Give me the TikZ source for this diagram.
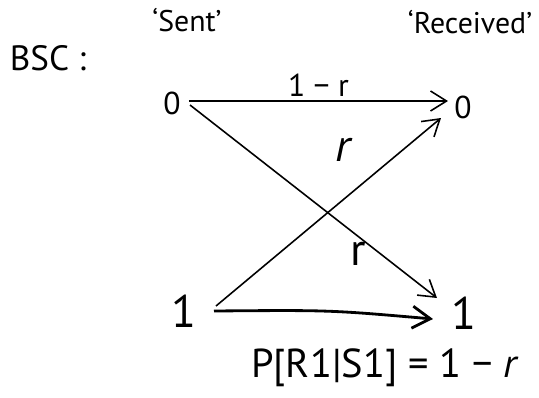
\documentclass[tikz,border=0pt]{standalone}
\usepackage{fontspec}
\setmainfont{PT Sans}
\usetikzlibrary{arrows.meta}

\begin{document}
\begin{tikzpicture}[x=0.02cm,y=-0.02cm]
\tikzset{
  symbol/.style={inner sep=1pt,font=\fontsize{18}{20}\selectfont},
  bigsymbol/.style={inner sep=1pt,font=\fontsize{26}{28}\selectfont},
  caption/.style={inner sep=1pt,font=\fontsize{17}{19}\selectfont},
  channel/.style={-{Straight Barb[length=3.2mm,width=4mm]},line width=0.9pt},
  heavychannel/.style={-{Straight Barb[length=3.6mm,width=4.4mm]},line width=1.6pt}
}
\useasboundingbox (0,0) rectangle (539,397);
% headings
\node[inner sep=1pt,font=\fontsize{20}{22}\selectfont] (n_bsc) at (48,58) {BSC :};
\node[caption] (n_sent) at (187,20) {`Sent'};
\node[caption] (n_recv) at (470,22) {`Received'};
% inputs and outputs
\node[symbol] (n_s0) at (172,103) {0};
\node[symbol] (n_r0) at (463,107) {0};
\node[bigsymbol] (n_s1) at (184,311) {1};
\node[bigsymbol] (n_r1) at (464,313) {1};
\coordinate (c_s0) at (189,101);
\coordinate (c_s0b) at (190,105);
\coordinate (c_s1) at (216,306);
\coordinate (c_s1b) at (214,311);
\coordinate (c_r0) at (448,101);
\coordinate (c_r0b) at (441,118);
\coordinate (c_r1) at (437,298);
\coordinate (c_r1b) at (433,319);
% transitions
\draw[channel] (c_s0) -- (c_r0) node[midway,above=1pt,symbol] (n_keep0) {1 − r};
\draw[channel] (c_s0b) -- (c_r1);
\draw[channel] (c_s1) -- (c_r0b);
\draw[heavychannel] (c_s1b) .. controls (330,310) .. (c_r1b);
\node[bigsymbol] (n_flip1) at (344,150) {\textit{r}};
\node[bigsymbol] (n_flip0) at (358,254) {r};
\node[inner sep=1pt,font=\fontsize{23}{25}\selectfont] (n_prob) at (385,368) {P[R1|S1] = 1 − \textit{r}};
\end{tikzpicture}
\end{document}
